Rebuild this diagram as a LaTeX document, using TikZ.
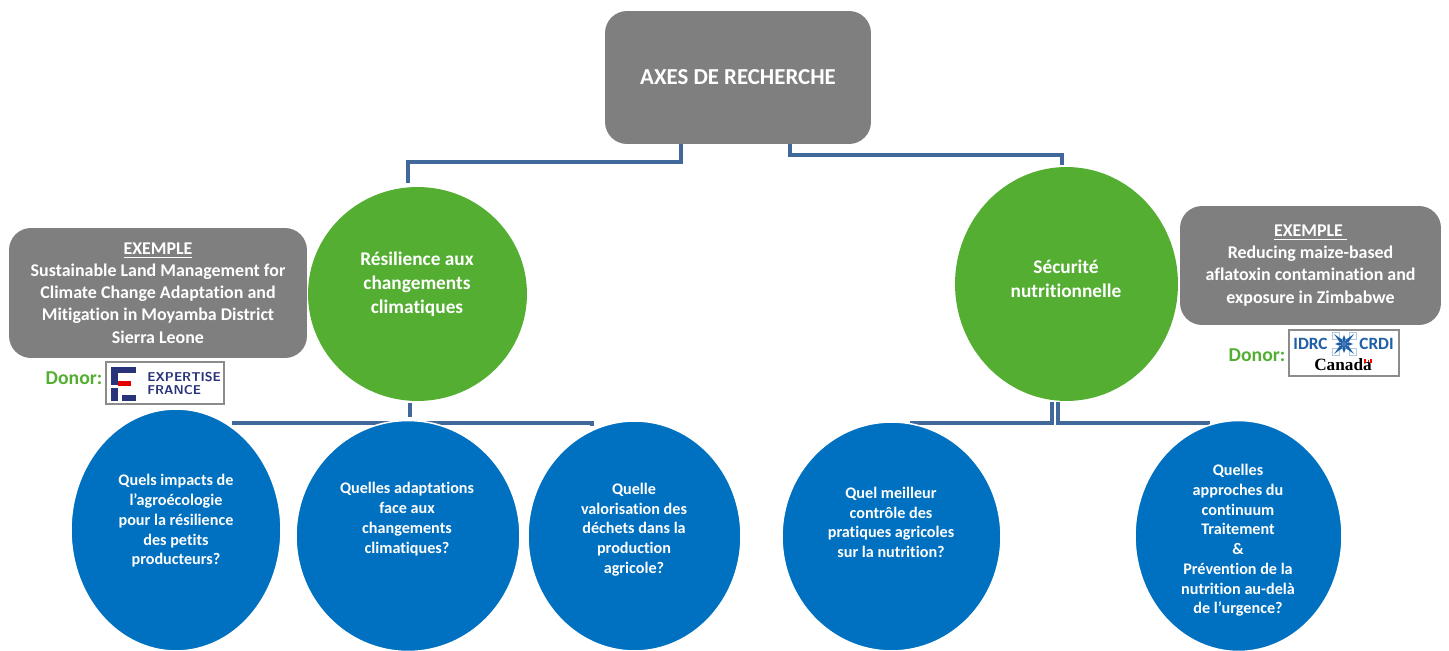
\documentclass[tikz,border=0pt]{standalone}
\usepackage{fontspec}
\setmainfont[Ligatures=CommonOff]{Carlito}
\newfontfamily\canadafont{Liberation Serif}
\usetikzlibrary{shapes.geometric, positioning, calc, backgrounds}
\definecolor{boxgray}{HTML}{7F7F7F}
\definecolor{discgreen}{HTML}{53AE32}
\definecolor{discblue}{HTML}{0070C0}
\definecolor{linkblue}{HTML}{41689B}
\definecolor{logonavy}{HTML}{28337A}
\definecolor{logoblue}{HTML}{1F5FA8}

\begin{document}
\begin{tikzpicture}[
  x=0.02cm, y=-0.02cm,
  graybox/.style={rectangle, rounded corners=0.44cm, fill=boxgray, text=white, align=center, font=\fontsize{10.2}{12.6}\selectfont\bfseries},
  greendisc/.style={ellipse, fill=discgreen, inner sep=0pt},
  bluedisc/.style={ellipse, fill=discblue, draw=white, line width=0.03cm, inner sep=0pt},
  greentext/.style={text=white, align=center, font=\fontsize{11}{13.6}\selectfont\bfseries},
  bluetext/.style={text=white, align=center, font=\fontsize{9.2}{11.25}\selectfont\bfseries},
  donor/.style={text=discgreen, font=\fontsize{11.2}{13}\selectfont\bfseries, inner sep=0pt},
  logobox/.style={rectangle, draw=black!45, fill=white, line width=0.03cm, inner sep=0pt},
  link/.style={draw=linkblue, line width=0.08cm}
]
  \useasboundingbox (0,0) rectangle (1449,651);

  % top box and main themes
  \node[graybox, minimum width=5.32cm, minimum height=2.66cm, font=\fontsize{13}{15}\selectfont\bfseries] (axes) at (738,77.5) {AXES DE RECHERCHE};

  \node[greendisc, minimum width=4.38cm, minimum height=4.28cm] (resilience) at (417.5,294) {};
  \node[greentext] (resiliencetext) at (417,284) {Résilience aux\\changements\\climatiques};

  \node[greendisc, minimum width=4.46cm, minimum height=4.68cm] (securite) at (1066.5,284) {};
  \node[greentext] (securitetext) at (1066,279) {Sécurité\\nutritionnelle};

  % examples
  \node[graybox, minimum width=5.96cm, minimum height=2.6cm] (exleft) at (158,293) {\underline{EXEMPLE}\\Sustainable Land Management for\\Climate Change Adaptation and\\Mitigation in Moyamba District\\Sierra Leone};
  \node[graybox, minimum width=5.22cm, minimum height=2.38cm] (exright) at (1310.5,265.5) {\underline{EXEMPLE\ }\\Reducing maize-based\\aflatoxin contamination and\\exposure in Zimbabwe};

  % donors
  \node[logobox, minimum width=2.36cm, minimum height=0.84cm] (logoleft) at (165,383) {};
  \node[donor] (donorleft) at (74,378) {Donor:};
  \node[logobox, minimum width=2.2cm, minimum height=0.92cm] (logoright) at (1344,353) {};
  \node[donor] (donorright) at (1257,355) {Donor:};

  \fill[logonavy] (111,367) rectangle (136,373);
  \fill[logonavy] (111,367) rectangle (118,385);
  \fill[red!90!black] (118,381) rectangle (131,386);
  \fill[logonavy] (111,388) rectangle (118,401);
  \fill[logonavy] (122,395) rectangle (136,401);
  \node[text=logonavy, align=left, font=\fontsize{7.3}{7.4}\selectfont\sffamily\bfseries, inner sep=0pt, anchor=west] (expertise) at (147,383.5) {EXPERTISE\\FRANCE};

  \node[text=logoblue, font=\fontsize{9.8}{11}\selectfont\bfseries, inner sep=0pt] (idrc) at (1310.5,344) {IDRC};
  \node[text=logoblue, font=\fontsize{9.8}{11}\selectfont\bfseries, inner sep=0pt] (crdi) at (1376.5,344) {CRDI};
  \foreach \a in {45,135,225,315} {
    \draw[logoblue!35, line width=0.02cm] (1344,344) ++(\a:12) ++(-3.5,-3.5) rectangle ++(7,7);
  }
  \foreach \a/\r in {0/9,45/14,90/9,135/14,180/9,225/14,270/9,315/14} {
    \fill[logoblue] (1344,344) -- ([shift={(\a-20:5)}]1344,344) -- ([shift={(\a:\r)}]1344,344) -- ([shift={(\a+20:5)}]1344,344) -- cycle;
  }
  \node[font=\fontsize{9.8}{12}\selectfont\canadafont\bfseries, inner sep=0pt] (canada) at (1343,365) {Canada};
  \fill[red] (1364,359) rectangle (1366,363);
  \fill[red] (1370,359) rectangle (1372,363);
  \fill[red] (1367.5,360) rectangle (1368.5,362);

  % questions
  \node[bluedisc, minimum width=4.2cm, minimum height=4.84cm] (q1) at (176,530) {};
  \node[bluetext] (q1text) at (176,521) {Quels impacts de\\l’agroécologie\\pour la résilience\\des petits\\producteurs?};

  \node[bluedisc, minimum width=4.48cm, minimum height=4.62cm] (q2) at (408,536) {};
  \node[bluetext] (q2text) at (407,519) {Quelles adaptations\\face aux\\changements\\climatiques?};

  \node[bluedisc, minimum width=4.26cm, minimum height=4.6cm] (q3) at (634.5,536) {};
  \node[bluetext] (q3text) at (634,529.5) {Quelle\\valorisation des\\déchets dans la\\production\\agricole?};

  \node[bluedisc, minimum width=4.38cm, minimum height=4.58cm] (q4) at (891.5,536.5) {};
  \node[bluetext] (q4text) at (891,522.5) {Quel meilleur\\contrôle des\\pratiques agricoles\\sur la nutrition?};

  \node[bluedisc, minimum width=4.14cm, minimum height=4.62cm] (q5) at (1238.5,536) {};
  \node[bluetext] (q5text) at (1238,540.5) {Quelles\\approches du\\continuum\\Traitement\\\&\\Prévention de la\\nutrition au-delà\\de  l’urgence?};

  % connectors
  \begin{scope}[on background layer]
    \coordinate (forkleft) at (232,423);
    \coordinate (forkmid) at (410,417);
    \coordinate (forkend) at (592,423);
    \coordinate (forkright) at (910,423);
    \coordinate (forkfar) at (1210,423);
    \draw[link] ($(axes.south)+(-57,0)$) -- ++(0,18) -| ($(resilience.north)+(-9.5,-4)$);
    \draw[link] ($(axes.south)+(52,0)$) -- ++(0,11) -| ($(securite.north)+(-4.5,-2)$);
    \draw[link] ($(resilience.south)+(-7.5,2)$) -- (forkmid);
    \draw[link] (forkleft) -- (forkend) -- ++(0,3);
    \draw[link] ($(securite.south)+(-15,1)$) |- (forkright);
    \draw[link] ($(securite.south)+(-9,1)$) |- (forkfar);
  \end{scope}
\end{tikzpicture}
\end{document}
